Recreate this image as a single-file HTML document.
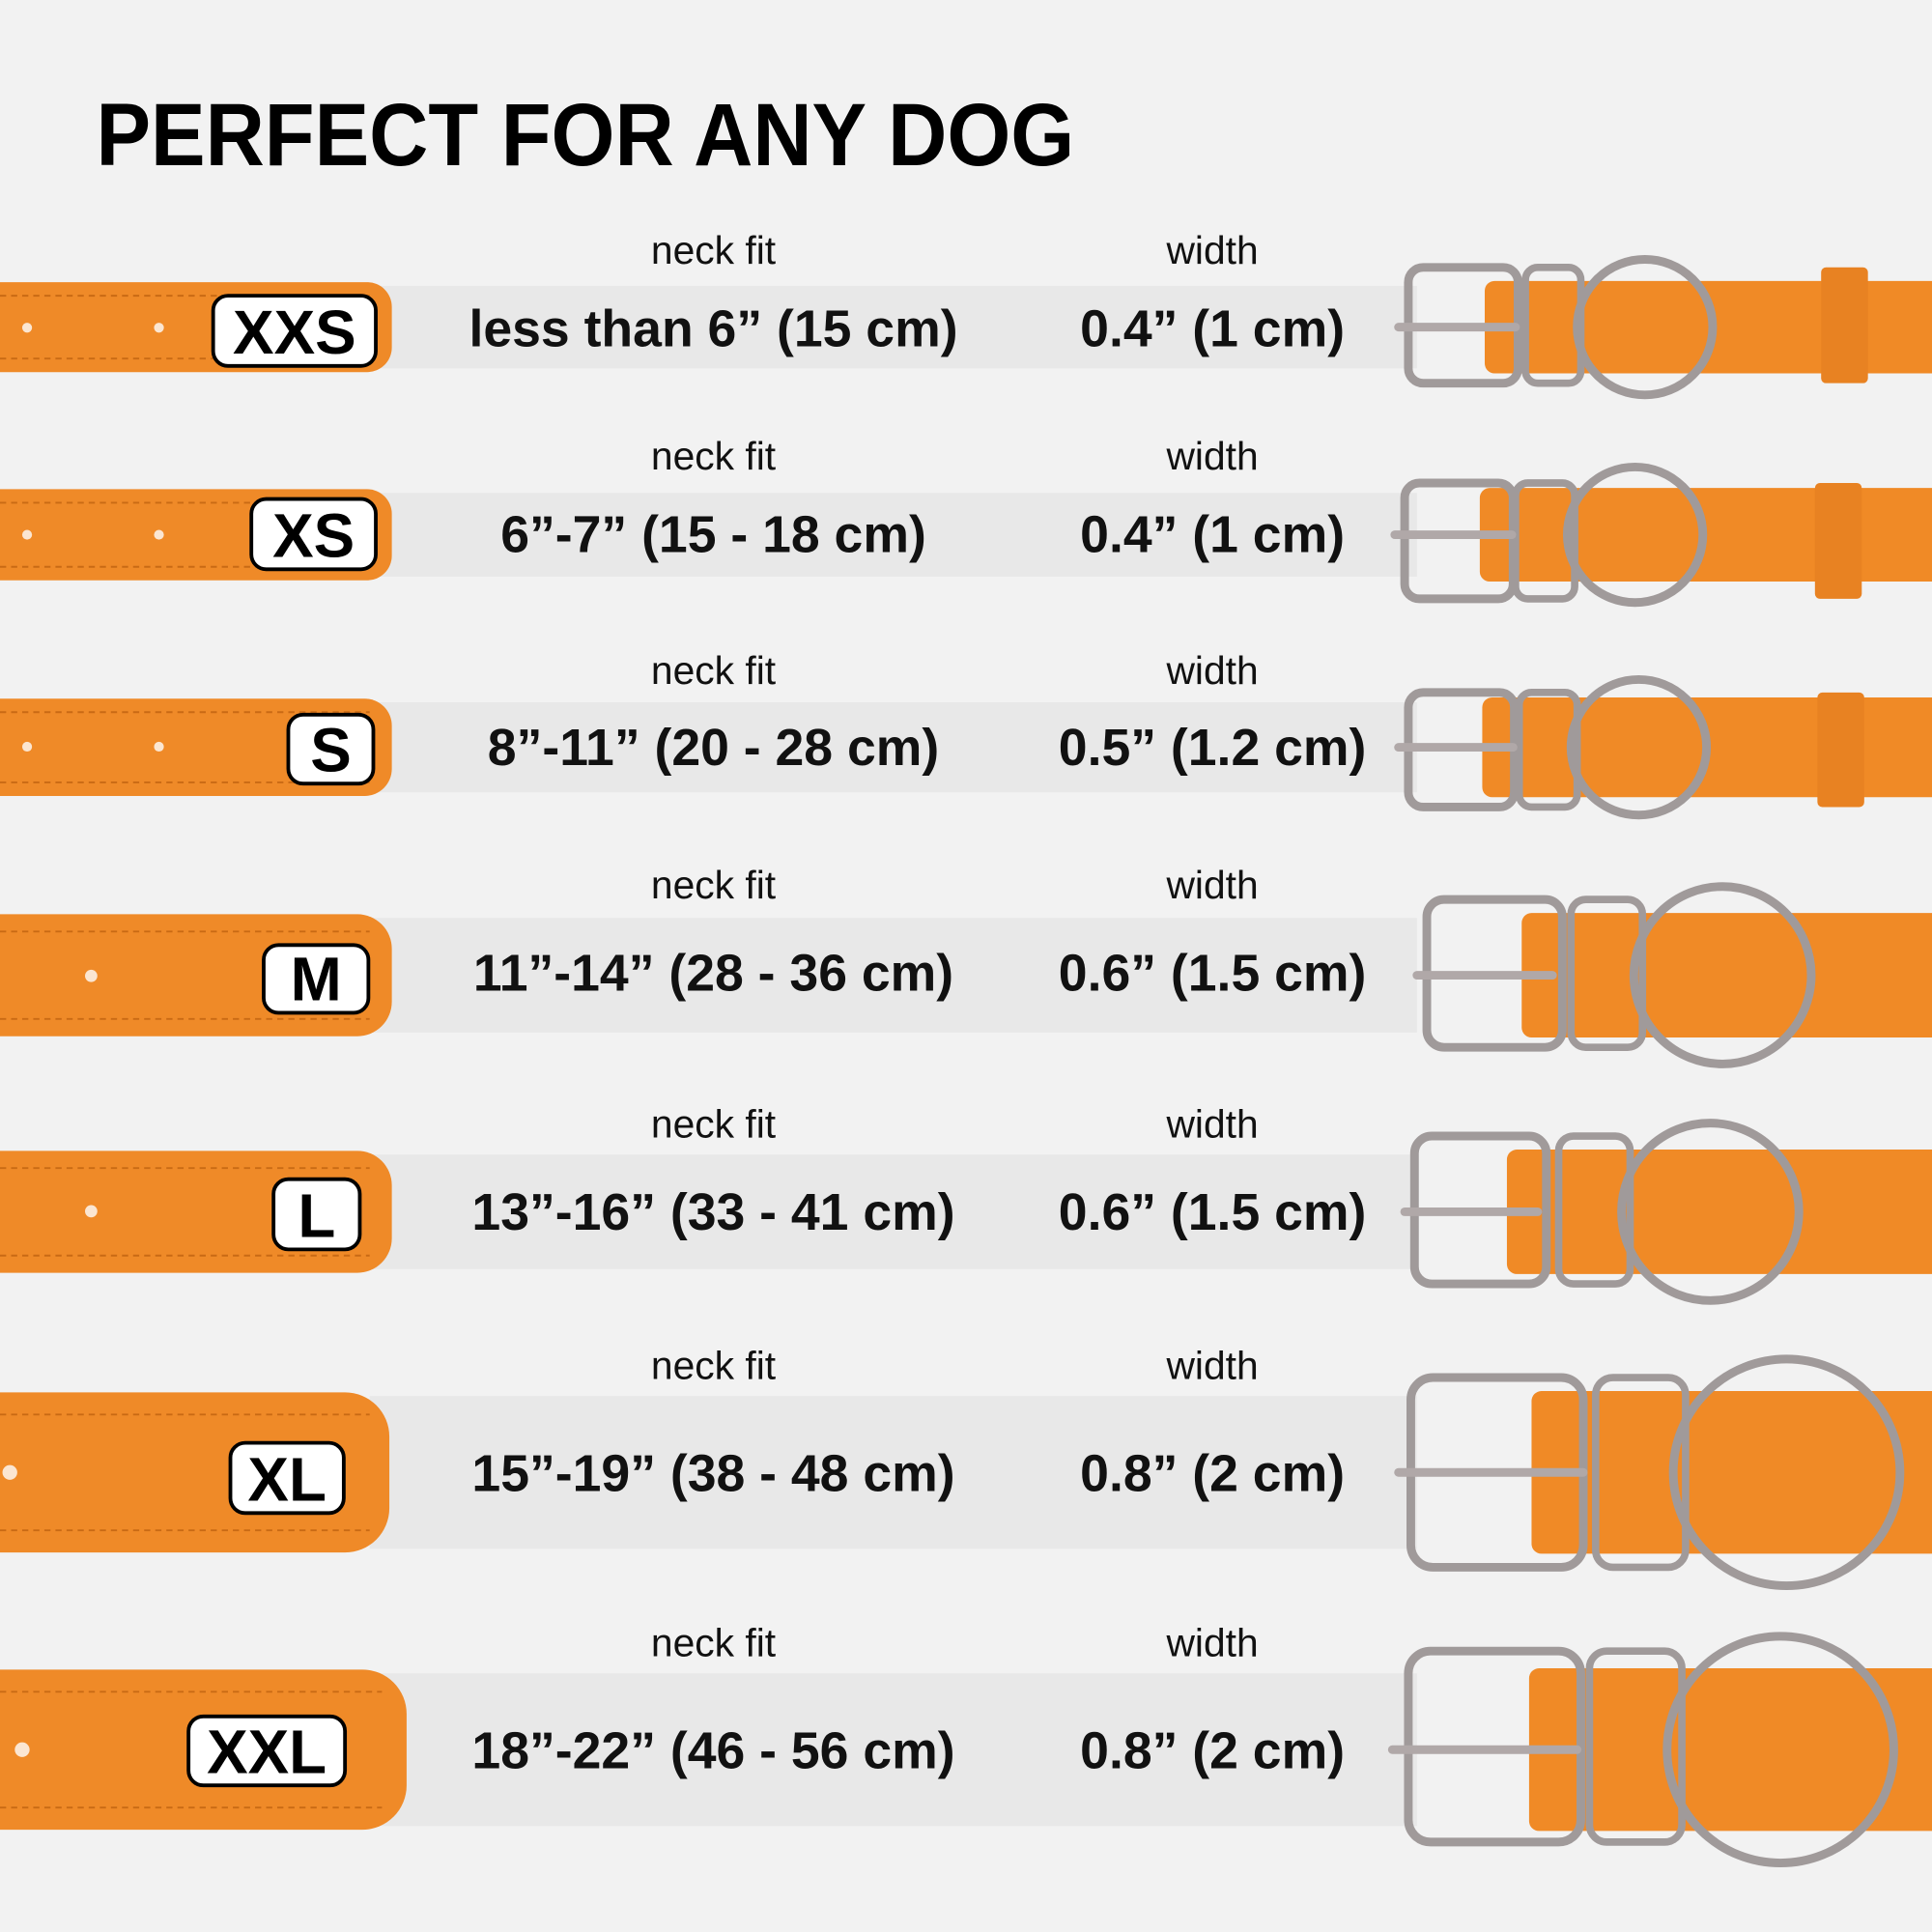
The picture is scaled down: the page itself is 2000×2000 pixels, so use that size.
<!DOCTYPE html>
<html><head><meta charset="utf-8"><style>
html,body{margin:0;padding:0;background:#f2f2f2;}
svg{display:block;}
</style></head><body>
<svg width="2000" height="2000" viewBox="0 0 1568 1568" xmlns="http://www.w3.org/2000/svg" font-family="'Liberation Sans', sans-serif">
<rect width="1568" height="1568" fill="#f2f2f2"/>
<text x="78" y="134" font-size="72" font-weight="bold" fill="#000" textLength="794" lengthAdjust="spacingAndGlyphs">PERFECT FOR ANY DOG</text>

<g fill="#e8e8e8">
<rect x="300" y="232" width="850" height="67"/>
<rect x="300" y="400" width="850" height="68"/>
<rect x="300" y="570" width="850" height="73"/>
<rect x="300" y="745" width="850" height="93"/>
<rect x="300" y="937" width="850" height="93"/>
<rect x="300" y="1133" width="850" height="124"/>
<rect x="300" y="1358" width="850" height="124"/>
</g>

<g fill="#ef8a28">
<rect x="-40" y="229" width="358" height="73" rx="20"/>
<rect x="-40" y="397" width="358" height="74" rx="20"/>
<rect x="-40" y="567" width="358" height="79" rx="22"/>
<rect x="-40" y="742" width="358" height="99" rx="28"/>
<rect x="-40" y="934" width="358" height="99" rx="28"/>
<rect x="-40" y="1130" width="356" height="130" rx="36"/>
<rect x="-40" y="1355" width="370" height="130" rx="36"/>
</g>
<g stroke="#c96a14" stroke-width="1.5" stroke-dasharray="5 4">
<line x1="0" y1="240" x2="300" y2="240"/><line x1="0" y1="291" x2="300" y2="291"/>
<line x1="0" y1="408" x2="300" y2="408"/><line x1="0" y1="460" x2="300" y2="460"/>
<line x1="0" y1="578" x2="300" y2="578"/><line x1="0" y1="635" x2="300" y2="635"/>
<line x1="0" y1="756" x2="300" y2="756"/><line x1="0" y1="827" x2="300" y2="827"/>
<line x1="0" y1="948" x2="300" y2="948"/><line x1="0" y1="1019" x2="300" y2="1019"/>
<line x1="0" y1="1148" x2="300" y2="1148"/><line x1="0" y1="1242" x2="300" y2="1242"/>
<line x1="0" y1="1373" x2="310" y2="1373"/><line x1="0" y1="1467" x2="310" y2="1467"/>
</g>
<g fill="#fbe6d2">
<circle cx="22" cy="266" r="4"/><circle cx="129" cy="266" r="4"/>
<circle cx="22" cy="434" r="4"/><circle cx="129" cy="434" r="4"/>
<circle cx="22" cy="606" r="4"/><circle cx="129" cy="606" r="4"/>
<circle cx="74" cy="792" r="5"/><circle cx="74" cy="983" r="5"/>
<circle cx="8" cy="1195" r="6"/><circle cx="18" cy="1420" r="6"/>
</g>

<g fill="#fff" stroke="#000" stroke-width="3">
<rect x="173" y="240" width="132" height="57" rx="12"/>
<rect x="204" y="405" width="101" height="57" rx="12"/>
<rect x="234" y="580" width="69" height="56" rx="12"/>
<rect x="214" y="767" width="85" height="55" rx="12"/>
<rect x="222" y="957" width="70" height="57" rx="12"/>
<rect x="187" y="1171" width="92" height="57" rx="12"/>
<rect x="153" y="1393" width="127" height="56" rx="12"/>
</g>
<g font-size="50" font-weight="bold" text-anchor="middle" fill="#000">
<text x="239" y="287">XXS</text>
<text x="254.5" y="452">XS</text>
<text x="268.5" y="626">S</text>
<text x="256.5" y="812">M</text>
<text x="257" y="1004">L</text>
<text x="233" y="1218">XL</text>
<text x="216.5" y="1439">XXL</text>
</g>

<g font-size="32" text-anchor="middle" fill="#111">
<text x="579" y="214">neck fit</text><text x="984" y="214">width</text>
<text x="579" y="381">neck fit</text><text x="984" y="381">width</text>
<text x="579" y="555">neck fit</text><text x="984" y="555">width</text>
<text x="579" y="729">neck fit</text><text x="984" y="729">width</text>
<text x="579" y="923">neck fit</text><text x="984" y="923">width</text>
<text x="579" y="1119">neck fit</text><text x="984" y="1119">width</text>
<text x="579" y="1344">neck fit</text><text x="984" y="1344">width</text>
</g>
<g font-size="42" font-weight="bold" text-anchor="middle" fill="#111">
<text x="579" y="281">less than 6” (15 cm)</text><text x="984" y="281">0.4” (1 cm)</text>
<text x="579" y="448">6”-7” (15 - 18 cm)</text><text x="984" y="448">0.4” (1 cm)</text>
<text x="579" y="621">8”-11” (20 - 28 cm)</text><text x="984" y="621">0.5” (1.2 cm)</text>
<text x="579" y="804">11”-14” (28 - 36 cm)</text><text x="984" y="804">0.6” (1.5 cm)</text>
<text x="579" y="998">13”-16” (33 - 41 cm)</text><text x="984" y="998">0.6” (1.5 cm)</text>
<text x="579" y="1210">15”-19” (38 - 48 cm)</text><text x="984" y="1210">0.8” (2 cm)</text>
<text x="579" y="1435">18”-22” (46 - 56 cm)</text><text x="984" y="1435">0.8” (2 cm)</text>
</g>

<g fill="#f08a26">
<rect x="1205" y="228" width="400" height="75" rx="8"/>
<rect x="1201" y="396" width="400" height="76" rx="8"/>
<rect x="1203" y="566" width="400" height="81" rx="8"/>
<rect x="1235" y="741" width="400" height="101" rx="8"/>
<rect x="1223" y="933" width="400" height="101" rx="8"/>
<rect x="1243" y="1129" width="400" height="132" rx="8"/>
<rect x="1241" y="1354" width="400" height="132" rx="8"/>
</g>
<g fill="#e88222">
<rect x="1478" y="217" width="38" height="94" rx="4"/>
<rect x="1473" y="392" width="38" height="94" rx="4"/>
<rect x="1475" y="562" width="38" height="93" rx="4"/>
</g>
<g fill="none" stroke="#a09a9a" stroke-width="7">
<rect x="1143" y="217" width="89" height="94" rx="12"/>
<rect x="1140" y="392" width="88" height="94" rx="12"/>
<rect x="1143" y="562" width="86" height="93" rx="12"/>
<rect x="1158" y="730" width="110" height="120" rx="14"/>
<rect x="1148" y="922" width="107" height="120" rx="14"/>
<rect x="1145" y="1118" width="140" height="154" rx="18"/>
<rect x="1143" y="1340" width="140" height="155" rx="18"/>
</g>
<g fill="none" stroke="#a09a9a" stroke-width="6">
<rect x="1238" y="217" width="45" height="94" rx="10"/>
<rect x="1230" y="392" width="48" height="94" rx="10"/>
<rect x="1233" y="562" width="47" height="93" rx="10"/>
<rect x="1275" y="730" width="58" height="120" rx="12"/>
<rect x="1265" y="922" width="58" height="120" rx="12"/>
<rect x="1295" y="1118" width="73" height="154" rx="14"/>
<rect x="1290" y="1340" width="75" height="155" rx="14"/>
</g>
<g stroke="#b0a8a8" stroke-width="7" stroke-linecap="round">
<line x1="1135" y1="265.5" x2="1230" y2="265.5"/>
<line x1="1132" y1="434" x2="1227" y2="434"/>
<line x1="1135" y1="606.5" x2="1228" y2="606.5"/>
<line x1="1150" y1="791.5" x2="1260" y2="791.5"/>
<line x1="1140" y1="983.5" x2="1248" y2="983.5"/>
<line x1="1135" y1="1195" x2="1285" y2="1195"/>
<line x1="1130" y1="1420" x2="1280" y2="1420"/>
</g>
<g fill="none" stroke="#a09a9a" stroke-width="7">
<circle cx="1335" cy="265.5" r="55"/>
<circle cx="1327" cy="434" r="55"/>
<circle cx="1330" cy="606.5" r="55"/>
<circle cx="1398" cy="791.5" r="72"/>
<circle cx="1388" cy="983.5" r="72"/>
<circle cx="1450" cy="1195" r="92"/>
<circle cx="1445" cy="1420" r="92"/>
</g>
</svg>
</body></html>
